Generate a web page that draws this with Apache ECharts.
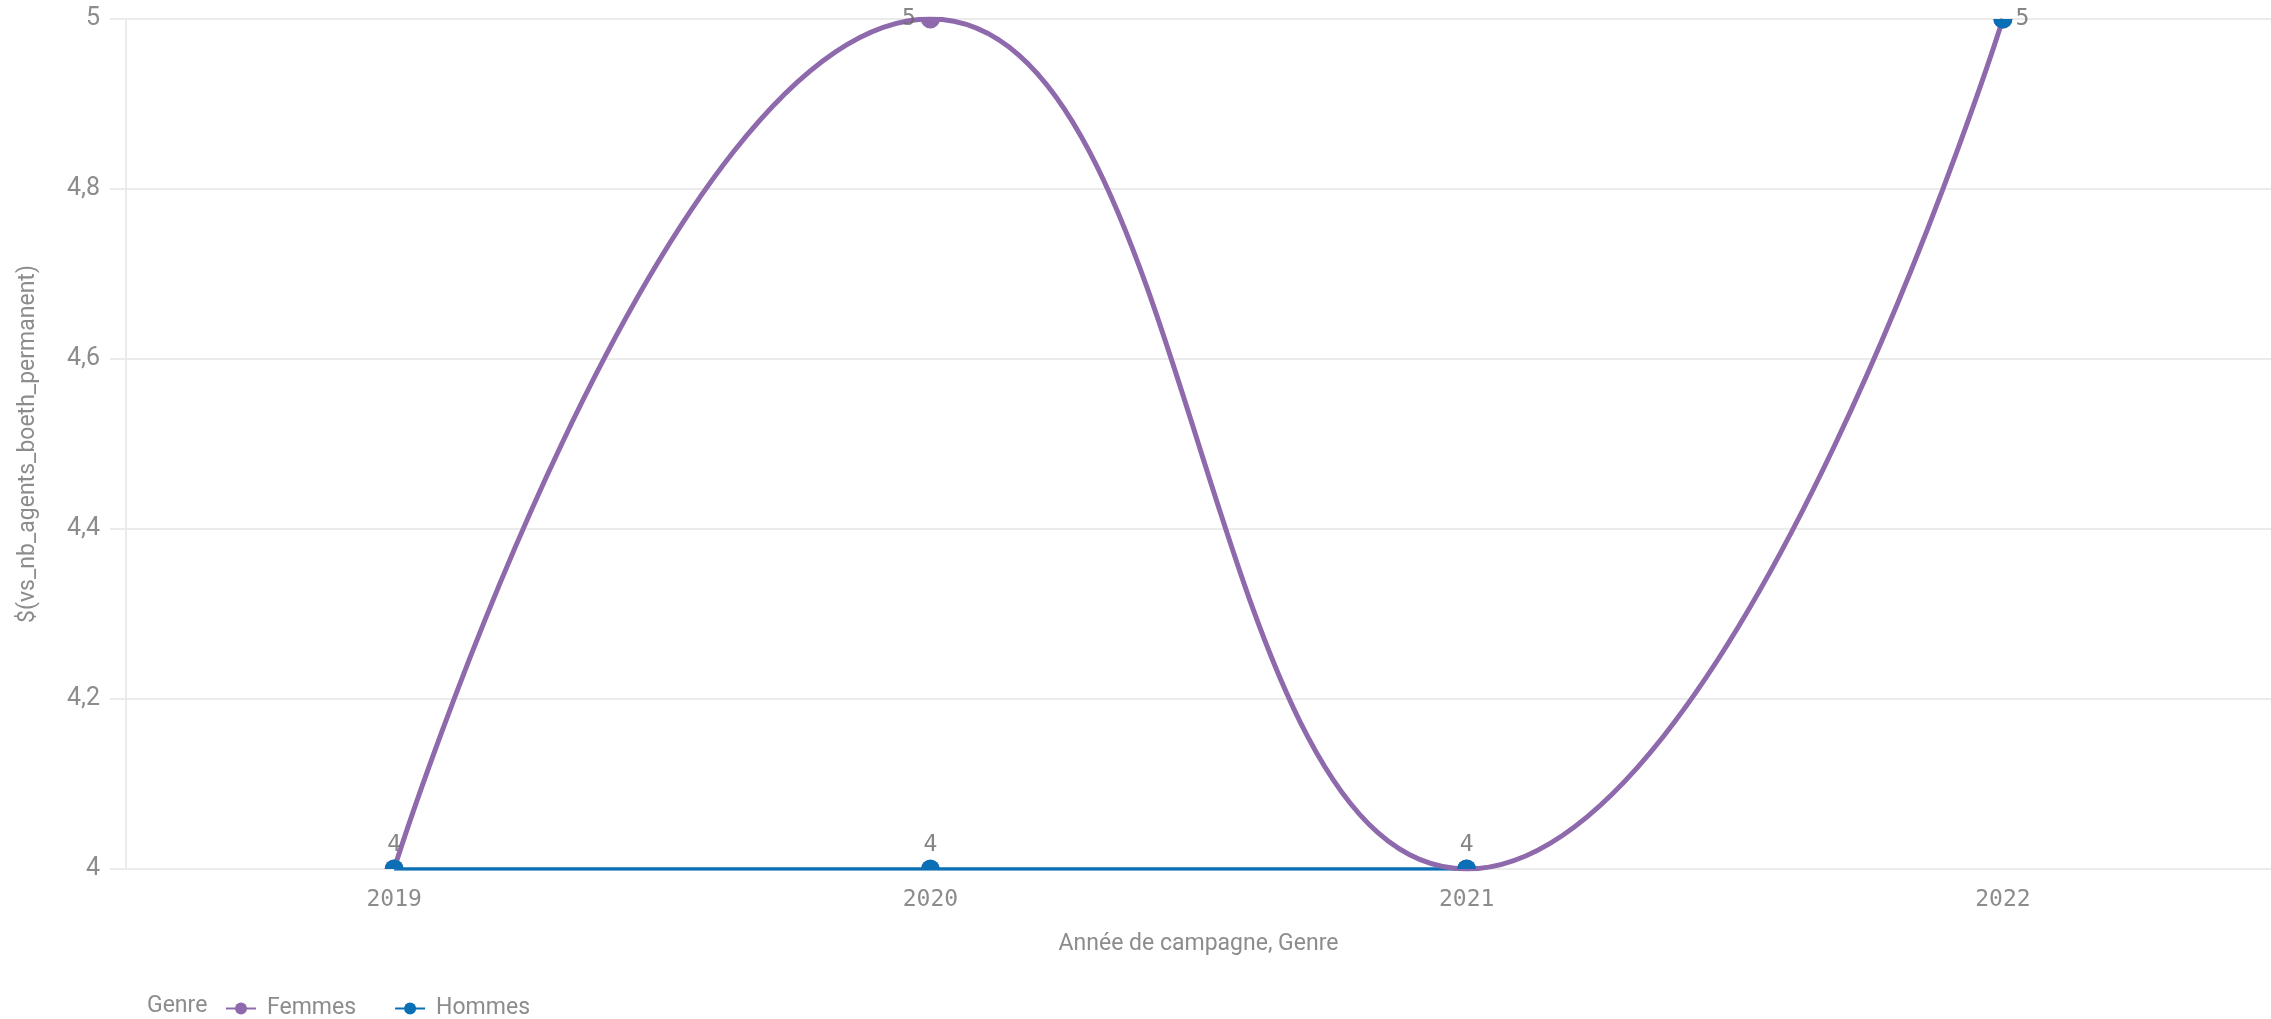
<!DOCTYPE html>
<html lang="fr" style="height: 100%">
<head>
  <meta charset="utf-8">
</head>
<body style="height: 100%; margin: 0">
  <div id="container" style="height: 100%"></div>

  <script type="text/javascript" src="https://fastly.jsdelivr.net/npm/echarts@6.0.0/dist/echarts.min.js"></script>

  <script type="text/javascript">
    // données
    var years = ['2019', '2020', '2021', '2022'];
    var femmes = [4, 5, 4, 5];
    var hommes = [4, 4, 4, 5];
    var yTicks = { min: 4, max: 5, interval: 0.2 };

    var PURPLE = '#8e6aad';
    var BLUE = '#0b6fb5';
    var GRID = '#ebebeb';
    var TEXT = '#8c8c8c';
    var LABEL = '#666666';
    var MONO = '"DejaVu Sans Mono", monospace';
    var SANS = 'Roboto, "Noto Sans", sans-serif';
    var DOT_R = 9.5;

    var dom = document.getElementById('container');
    var myChart = echarts.init(dom, null, {
      renderer: 'canvas',
      useDirtyRect: false
    });
    var option;

    var yMax = Math.max.apply(null, hommes);

    // points dessinés dans une série custom pour qu'ils soient coupés au bord du graphique
    function dotRenderer(color) {
      return function (params, api) {
        var p = api.coord([api.value(0), api.value(1)]);
        return {
          type: 'circle',
          shape: { cx: p[0], cy: p[1], r: DOT_R },
          style: { fill: color }
        };
      };
    }

    // étiquettes Femmes seulement là où elles ne recouvrent pas celles des Hommes
    var femmesLabels = femmes.map(function (v, i) {
      return {
        value: [i, v],
        label: { show: v !== hommes[i], position: 'left', distance: 5 }
      };
    });
    var hommesLabels = hommes.map(function (v, i) {
      return {
        value: [i, v],
        label: { show: true, position: v === yMax ? 'right' : 'top', distance: 3 }
      };
    });

    var labelStyle = { fontFamily: MONO, fontSize: 23, color: LABEL };

    option = {
      animation: false,
      title: {
        text: 'Genre',
        left: 142,
        top: 990,
        textStyle: { fontFamily: SANS, fontSize: 23, fontWeight: 'normal', color: TEXT }
      },
      legend: {
        data: ['Femmes', 'Hommes'],
        left: 220,
        top: 992,
        itemWidth: 30,
        itemHeight: 15,
        itemGap: 38,
        textStyle: { fontFamily: SANS, fontSize: 23, color: TEXT, padding: [0, 0, 0, 6] }
      },
      grid: {
        left: 126,
        right: -7,
        top: 19,
        bottom: 150,
        containLabel: false
      },
      xAxis: {
        type: 'category',
        data: years,
        boundaryGap: true,
        name: 'Année de campagne, Genre',
        nameLocation: 'middle',
        nameGap: 64,
        nameTextStyle: { fontFamily: SANS, fontSize: 23, color: TEXT },
        axisLine: { show: false },
        axisTick: { show: false },
        axisLabel: { fontFamily: MONO, fontSize: 23, color: TEXT, margin: 20 },
        splitLine: { show: false }
      },
      yAxis: {
        type: 'value',
        min: yTicks.min,
        max: yTicks.max,
        interval: yTicks.interval,
        name: '$(vs_nb_agents_boeth_permanent)',
        nameLocation: 'middle',
        nameRotate: 90,
        nameGap: 86,
        nameTextStyle: { fontFamily: SANS, fontSize: 23, color: TEXT },
        axisLine: { show: true, lineStyle: { color: GRID, width: 2 } },
        axisTick: { show: true, length: 16, lineStyle: { color: GRID, width: 2 } },
        axisLabel: {
          fontFamily: SANS,
          fontSize: 25,
          color: TEXT,
          margin: 26,
          formatter: function (v) {
            return String(+v.toFixed(1)).replace('.', ',');
          }
        },
        splitLine: { show: true, lineStyle: { color: GRID, width: 2 } }
      },
      series: [
        {
          name: 'Hommes',
          type: 'line',
          data: hommes,
          // lissage choisi pour suivre la même courbe que Femmes entre 2021 et 2022
          smooth: 0.384,
          symbol: 'circle',
          showSymbol: false,
          z: 2,
          itemStyle: { color: BLUE },
          lineStyle: { color: BLUE, width: 3.5 }
        },
        {
          name: 'Femmes',
          type: 'line',
          data: femmes,
          smooth: true,
          symbol: 'circle',
          showSymbol: false,
          z: 3,
          itemStyle: { color: PURPLE },
          lineStyle: { color: PURPLE, width: 5 }
        },
        {
          name: 'Femmes',
          type: 'custom',
          clip: true,
          z: 4,
          renderItem: dotRenderer(PURPLE),
          encode: { x: 0, y: 1 },
          data: femmes.map(function (v, i) { return [i, v]; })
        },
        {
          name: 'Hommes',
          type: 'custom',
          clip: true,
          z: 5,
          renderItem: dotRenderer(BLUE),
          encode: { x: 0, y: 1 },
          data: hommes.map(function (v, i) { return [i, v]; })
        },
        {
          name: 'Femmes',
          type: 'scatter',
          symbolSize: DOT_R * 2,
          z: 6,
          itemStyle: { color: 'rgba(0,0,0,0)' },
          label: labelStyle,
          data: femmesLabels
        },
        {
          name: 'Hommes',
          type: 'scatter',
          symbolSize: DOT_R * 2,
          z: 6,
          itemStyle: { color: 'rgba(0,0,0,0)' },
          label: labelStyle,
          data: hommesLabels
        }
      ]
    };

    if (option && typeof option === 'object') {
      myChart.setOption(option);
    }

    window.addEventListener('resize', myChart.resize);
  </script>
</body>
</html>
